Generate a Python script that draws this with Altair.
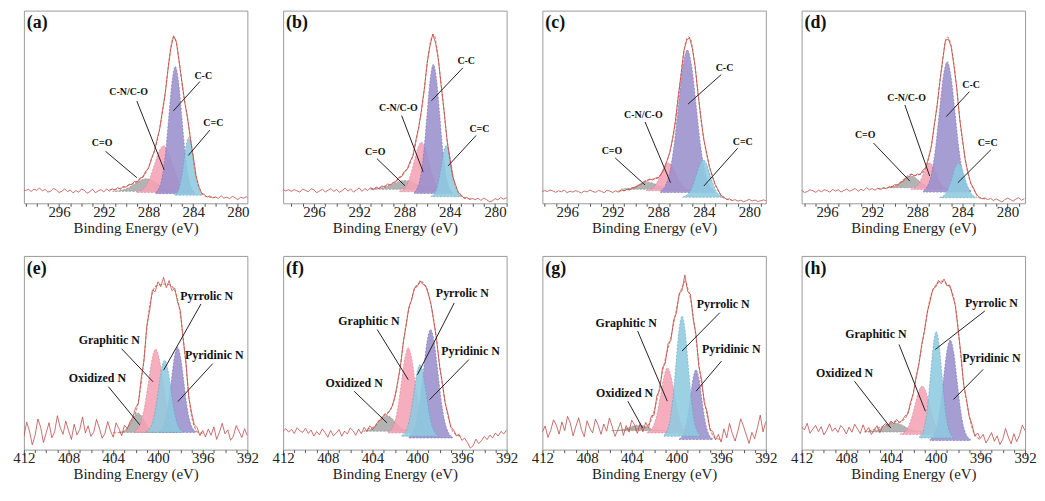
import altair as alt
import pandas as pd

STEP = 0.25
TOP_START = 278.5
BOT_START = 392.0
SERIF = "Liberation Serif"
FILL = ["#a9a9a9", "#f5a2b6", "#9a90cd", "#8fcae0"]
EDGE = ["#808080", "#d57d93", "#7468ad", "#5fa3bf"]

TOP_NAMES = ["C=O", "C-N/C-O", "C-C", "C=C"]
BOT_NAMES = ["Oxidized N", "Graphitic N", "Pyridinic N", "Pyrrolic N"]

# ---------------- (a) ----------------
A_RAW = [2.6, 3.3, 2.2, 3.4, 2.6, 3.1, 1.9, 2.9, 3.6, 2.4, 3.2, 2.7, 3.9, 2.5, 3.3, 2.8, 3.8, 3.2,
         4.6, 5.3, 8.9, 14.4, 24.6, 33.5, 44.3, 52.2, 62.8, 73.1, 83.6, 86.9, 80.4, 69.9, 57.1, 48.2,
         38.4, 32.7, 26.4, 23.1, 18.0, 16.7, 13.4, 13.2, 11.0, 11.4, 9.6, 9.9, 8.3, 8.9, 7.2, 8.1,
         6.8, 7.6, 6.3, 7.5, 5.9, 7.1, 6.4, 5.5, 7.3, 6.1, 5.2, 6.8, 7.4, 5.7, 6.6, 5.4, 6.9, 6.0,
         7.5, 6.2, 5.6, 6.9, 7.7, 6.3, 5.8, 7.2, 6.5, 7.9, 6.7, 7.4, 6.1, 7.3, 6.6, 7.1]
A_ENV_X = [282.0, 282.8, 283.2, 283.5, 283.8, 284.1, 284.4, 284.7, 285.0, 285.3, 285.55, 285.75,
           286.0, 286.3, 286.6, 286.9, 287.2, 287.6, 288.0, 288.4, 289.0, 289.9, 290.5, 291.5]
A_ENV_Y = [3.0, 3.5, 5.0, 8.5, 16.0, 28.0, 40.0, 51.0, 62.0, 76.0, 84.5, 86.3,
           81.0, 67.0, 53.0, 42.0, 33.0, 25.0, 18.5, 14.5, 11.5, 9.0, 7.8, 7.0]
A_X = [[285.2, 285.7, 286.2, 286.7, 287.2, 287.7, 288.2, 288.7, 289.2, 289.7, 290.2, 290.7, 291.2],
       [284.25, 284.65, 285.05, 285.45, 285.85, 286.25, 286.65, 287.05, 287.45, 287.85, 288.25, 288.65, 289.05],
       [283.86, 284.15, 284.44, 284.73, 285.02, 285.31, 285.6, 285.89, 286.18, 286.47, 286.76, 287.05, 287.34],
       [283.14, 283.35, 283.56, 283.77, 283.98, 284.19, 284.4, 284.61, 284.82, 285.03, 285.24, 285.45, 285.66]]
A_H = [[0.1, 0.3, 0.9, 2.1, 3.9, 5.7, 6.5, 5.7, 3.9, 2.1, 0.9, 0.3, 0.1],
       [0.3, 1.1, 3.3, 7.9, 14.7, 21.4, 24.3, 21.4, 14.7, 7.9, 3.3, 1.1, 0.3],
       [0.7, 2.9, 8.9, 21.5, 40.1, 58.2, 66.0, 58.2, 40.1, 21.5, 8.9, 2.9, 0.7],
       [0.3, 1.3, 4.1, 9.8, 18.2, 26.5, 30.0, 26.5, 18.2, 9.8, 4.1, 1.3, 0.3]]
A_BASE = [6.2, 5.6, 5.0, 4.2]
A_NOTES = [["C-C", 283.1, 66.3, 283.4, 63.2, 285.78, 47.9],
           ["C-N/C-O", 289.78, 57.8, 289.04, 53.0, 286.6, 17.4],
           ["C=C", 282.2, 41.9, 282.5, 38.0, 284.44, 24.8],
           ["C=O", 292.15, 31.1, 291.85, 27.0, 289.04, 13.3]]

# ---------------- (b) ----------------
B_RAW = [2.8, 1.6, 2.9, 2.1, 3.0, 1.8, 2.4, 1.2, 0.8, 1.9, 2.7, 1.5, 2.6, 1.9, 2.5, 2.0, 3.1, 2.6,
         4.5, 5.6, 9.9, 14.2, 23.6, 33.1, 47.9, 60.4, 74.3, 83.0, 87.9, 81.5, 72.6, 59.1, 48.6, 39.1,
         32.7, 24.6, 21.8, 17.7, 16.6, 13.8, 13.5, 11.2, 10.9, 9.4, 10.1, 8.4, 9.0, 7.6, 8.5, 7.0,
         8.1, 6.6, 7.7, 6.2, 8.0, 6.9, 5.8, 7.4, 6.3, 7.9, 6.6, 5.7, 7.2, 6.1, 7.6, 6.8, 5.9, 7.3,
         6.4, 5.5, 6.9, 7.6, 6.0, 6.7, 7.4, 5.8, 6.5, 7.1, 6.2, 7.0, 6.4, 7.3, 6.8, 6.5]
B_ENV_X = [282.0, 282.7, 283.1, 283.4, 283.7, 284.0, 284.3, 284.6, 284.9, 285.15, 285.4, 285.6,
           285.9, 286.2, 286.5, 286.8, 287.2, 287.6, 288.0, 288.4, 289.0, 290.0, 291.0]
B_ENV_Y = [2.2, 2.8, 4.5, 7.5, 13.0, 23.0, 36.0, 53.0, 69.0, 81.0, 87.5, 86.0,
           77.0, 62.0, 48.0, 38.0, 26.0, 19.5, 16.0, 13.5, 10.5, 8.5, 7.5]
B_X = [[285.0, 285.5, 286.0, 286.5, 287.0, 287.5, 288.0, 288.5, 289.0, 289.5, 290.0, 290.5, 291.0],
       [284.55, 284.88, 285.2, 285.53, 285.85, 286.18, 286.5, 286.83, 287.15, 287.48, 287.8, 288.13, 288.45],
       [283.77, 284.05, 284.33, 284.61, 284.89, 285.17, 285.45, 285.73, 286.01, 286.29, 286.57, 286.85, 287.13],
       [282.95, 283.18, 283.4, 283.63, 283.85, 284.08, 284.3, 284.53, 284.75, 284.98, 285.2, 285.43, 285.65]]
B_H = [[0.0, 0.2, 0.6, 1.5, 2.7, 4.0, 4.5, 4.0, 2.7, 1.5, 0.6, 0.2, 0.0],
       [0.3, 1.1, 3.5, 8.4, 15.6, 22.7, 25.7, 22.7, 15.6, 8.4, 3.5, 1.1, 0.3],
       [0.7, 2.9, 9.0, 21.8, 40.7, 59.1, 67.0, 59.1, 40.7, 21.8, 9.0, 2.9, 0.7],
       [0.3, 1.2, 3.6, 8.6, 16.1, 23.5, 26.6, 23.5, 16.1, 8.6, 3.6, 1.2, 0.3]]
B_BASE = [7.3, 6.0, 5.1, 3.4]
B_NOTES = [["C-C", 282.55, 73.8, 282.84, 70.3, 285.62, 53.2],
           ["C-N/C-O", 288.54, 49.2, 288.25, 45.5, 286.35, 16.3],
           ["C=C", 281.38, 38.6, 281.67, 35.2, 284.15, 19.4],
           ["C=O", 290.59, 26.6, 290.44, 23.2, 287.96, 9.1]]

# ---------------- (c) ----------------
C_RAW = [1.1, 1.8, 1.3, 0.9, 1.7, 1.2, 2.0, 1.4, 0.8, 1.6, 1.1, 1.9, 1.4, 2.3, 2.1, 3.2, 4.2, 7.1,
         9.6, 14.4, 18.8, 26.1, 33.2, 44.4, 56.5, 70.6, 80.1, 86.0, 84.6, 79.0, 66.5, 55.2, 42.2, 33.5,
         26.0, 21.8, 17.5, 15.1, 13.2, 13.0, 12.1, 12.6, 11.5, 11.2, 9.8, 9.4, 8.1, 7.9, 6.9, 7.3,
         6.4, 6.9, 5.8, 6.5, 5.6, 6.3, 6.8, 5.5, 6.2, 6.7, 5.7, 6.1, 6.9, 5.9, 6.4, 5.3, 6.0, 6.6,
         5.8, 6.3, 5.5, 6.8, 6.0, 6.5, 5.7, 6.4, 6.9, 6.1, 6.6, 5.9, 6.3, 6.7, 6.0, 6.4]
C_ENV_X = [281.5, 282.2, 282.6, 282.9, 283.2, 283.5, 283.8, 284.05, 284.3, 284.5, 284.75, 284.95,
           285.15, 285.38, 285.6, 285.82, 286.1, 286.4, 286.6, 286.85, 287.2, 287.6, 288.0, 288.5,
           289.0, 289.5, 290.0, 290.5, 291.5]
C_ENV_Y = [1.6, 2.6, 5.2, 8.5, 13.0, 19.0, 27.0, 35.0, 46.0, 57.0, 70.0, 79.0,
           85.0, 86.4, 83.5, 76.0, 62.0, 47.5, 38.0, 30.0, 22.5, 17.0, 13.5, 12.5,
           12.0, 10.2, 8.5, 7.3, 6.3]
C_X = [[286.5, 286.9, 287.3, 287.7, 288.1, 288.5, 288.9, 289.3, 289.7, 290.1, 290.5, 290.9, 291.3],
       [285.15, 285.48, 285.8, 286.13, 286.45, 286.78, 287.1, 287.43, 287.75, 288.08, 288.4, 288.73, 289.05],
       [283.11, 283.5, 283.89, 284.28, 284.67, 285.06, 285.45, 285.84, 286.23, 286.62, 287.01, 287.4, 287.79],
       [282.25, 282.55, 282.85, 283.15, 283.45, 283.75, 284.05, 284.35, 284.65, 284.95, 285.25, 285.55, 285.85]]
C_H = [[0.0, 0.2, 0.5, 1.2, 2.2, 3.2, 3.6, 3.2, 2.2, 1.2, 0.5, 0.2, 0.0],
       [0.2, 0.6, 1.9, 4.7, 8.7, 12.7, 14.4, 12.7, 8.7, 4.7, 1.9, 0.6, 0.2],
       [0.8, 3.3, 10.0, 24.1, 44.9, 65.3, 74.0, 65.3, 44.9, 24.1, 10.0, 3.3, 0.8],
       [0.2, 0.9, 2.6, 6.3, 11.8, 17.2, 19.5, 17.2, 11.8, 6.3, 2.6, 0.9, 0.2]]
C_BASE = [7.3, 6.5, 5.6, 3.1]
C_NOTES = [["C-C", 282.18, 70.2, 282.47, 66.8, 285.38, 51.5],
           ["C-N/C-O", 289.31, 45.6, 289.16, 42.2, 286.92, 10.7],
           ["C=C", 280.58, 32.0, 281.02, 28.6, 283.99, 9.0],
           ["C=O", 292.07, 26.9, 291.78, 23.5, 289.16, 9.5]]

# ---------------- (d) ----------------
D_RAW = [2.4, 1.6, 2.9, 2.2, 1.1, 2.0, 2.7, 1.8, 0.7, 1.5, 2.3, 1.4, 2.6, 1.9, 2.8, 2.3, 3.3, 4.5,
         7.8, 10.1, 15.9, 22.6, 33.5, 44.4, 59.8, 71.5, 81.5, 85.2, 84.6, 74.1, 63.2, 50.1, 40.6, 29.5,
         23.9, 18.4, 17.2, 14.9, 15.2, 14.1, 15.3, 13.7, 13.4, 11.3, 11.0, 9.5, 9.7, 8.4, 8.6, 7.5,
         8.2, 7.1, 7.9, 6.8, 7.6, 7.0, 8.1, 6.6, 7.3, 6.2, 7.7, 6.9, 6.3, 7.4, 6.7, 5.9, 7.0, 6.4,
         7.2, 5.8, 6.6, 7.1, 6.0, 6.8, 5.7, 6.5, 7.0, 6.1, 5.6, 6.7, 6.2, 5.4, 6.3, 5.9]
D_ENV_X = [282.0, 282.5, 282.93, 283.25, 283.52, 283.75, 283.96, 284.2, 284.4, 284.62, 284.84, 285.1,
           285.34, 285.55, 285.72, 285.95, 286.16, 286.45, 286.75, 287.05, 287.34, 287.8, 288.2, 288.6,
           289.1, 289.6, 290.5, 291.5]
D_ENV_Y = [2.3, 2.9, 6.4, 10.5, 15.8, 23.0, 31.3, 42.0, 53.6, 66.0, 76.0, 84.0,
           86.3, 83.0, 76.0, 65.0, 55.0, 42.0, 30.0, 22.0, 17.5, 15.0, 14.5, 15.0,
           13.0, 10.2, 8.3, 7.6]
D_X = [[286.45, 286.8, 287.15, 287.5, 287.85, 288.2, 288.55, 288.9, 289.25, 289.6, 289.95, 290.3, 290.65],
       [285.25, 285.53, 285.8, 286.08, 286.35, 286.63, 286.9, 287.18, 287.45, 287.73, 288.0, 288.28, 288.55],
       [283.25, 283.6, 283.95, 284.3, 284.65, 285.0, 285.35, 285.7, 286.05, 286.4, 286.75, 287.1, 287.45],
       [282.7, 282.98, 283.25, 283.53, 283.8, 284.08, 284.35, 284.63, 284.9, 285.18, 285.45, 285.73, 286.0]]
D_H = [[0.1, 0.3, 0.8, 2.0, 3.6, 5.3, 6.0, 5.3, 3.6, 2.0, 0.8, 0.3, 0.1],
       [0.2, 0.6, 1.9, 4.5, 8.4, 12.2, 13.8, 12.2, 8.4, 4.5, 1.9, 0.6, 0.2],
       [0.7, 3.0, 9.1, 22.0, 41.0, 59.6, 67.6, 59.6, 41.0, 22.0, 9.1, 3.0, 0.7],
       [0.2, 0.8, 2.4, 5.9, 10.9, 15.9, 18.0, 15.9, 10.9, 5.9, 2.4, 0.8, 0.2]]
D_BASE = [8.1, 7.2, 5.8, 2.9]
D_NOTES = [["C-C", 283.23, 61.3, 283.38, 57.9, 285.43, 45.0],
           ["C-N/C-O", 288.95, 54.5, 289.1, 51.0, 286.9, 14.1],
           ["C=C", 281.76, 31.3, 281.47, 27.8, 284.4, 10.7],
           ["C=O", 292.62, 35.6, 291.89, 31.3, 288.66, 11.5]]

# ---------------- (e) ----------------
E_RAW = [7.1, 10.8, 6.2, 9.5, 12.4, 7.0, 4.8, 10.2, 8.1, 13.6, 9.0, 5.3, 11.8, 7.4, 10.6, 6.5,
         9.9, 7.2, 11.5, 12.8, 19.4, 27.0, 45.6, 56.9, 71.8, 76.2, 83.4, 82.0, 87.3, 83.6, 88.9, 84.1,
         86.7, 81.5, 82.4, 71.6, 64.0, 45.8, 37.1, 23.9, 21.7, 16.8, 14.3, 10.9, 12.6, 7.1, 10.9, 13.8,
         6.4, 9.7, 14.5, 8.3, 5.9, 11.2, 15.6, 9.1, 6.8, 12.3, 8.6, 16.9, 10.4, 7.6, 13.1, 5.2, 9.8,
         14.7, 7.9, 11.3, 17.5, 9.2, 6.1, 13.9, 8.8, 3.7, 11.6, 15.8, 7.3, 2.5, 9.6, 14.2, 6.9]
E_ENV_X = [396.0, 396.3, 396.74, 397.0, 397.19, 397.48, 397.78, 398.0, 398.22, 398.67, 399.26, 399.7,
           400.15, 400.6, 400.85, 401.04, 401.33, 401.63, 401.9, 402.22, 402.5, 402.8, 403.3, 404.0]
E_ENV_Y = [8.5, 8.6, 12.0, 17.5, 25.6, 42.7, 60.0, 70.0, 77.0, 83.8, 85.5, 85.3,
           84.6, 78.6, 70.0, 60.0, 42.7, 29.0, 21.0, 16.5, 13.2, 10.5, 8.9, 8.7]
E_X = [[400.15, 400.43, 400.7, 400.98, 401.25, 401.53, 401.8, 402.08, 402.35, 402.63, 402.9, 403.18, 403.45],
       [398.25, 398.58, 398.9, 399.23, 399.55, 399.88, 400.2, 400.53, 400.85, 401.18, 401.5, 401.83, 402.15],
       [396.6, 396.88, 397.15, 397.43, 397.7, 397.98, 398.25, 398.53, 398.8, 399.08, 399.35, 399.63, 399.9],
       [397.75, 398.03, 398.3, 398.58, 398.85, 399.13, 399.4, 399.68, 399.95, 400.23, 400.5, 400.78, 401.05]]
E_H = [[0.1, 0.4, 1.4, 3.3, 6.1, 8.8, 10.0, 8.8, 6.1, 3.3, 1.4, 0.4, 0.1],
       [0.5, 1.9, 5.8, 14.0, 26.1, 37.9, 43.0, 37.9, 26.1, 14.0, 5.8, 1.9, 0.5],
       [0.5, 1.9, 5.9, 14.3, 26.7, 38.8, 44.0, 38.8, 26.7, 14.3, 5.9, 1.9, 0.5],
       [0.4, 1.6, 5.0, 12.1, 22.6, 32.9, 37.3, 32.9, 22.6, 12.1, 5.0, 1.6, 0.4]]
E_BASE = [8.9, 8.9, 8.9, 8.9]
E_NOTES = [["Pyrrolic N", 395.64, 79.5, 396.15, 75.2, 399.5, 41.0],
           ["Graphitic N", 404.36, 56.4, 403.26, 52.1, 400.44, 35.0],
           ["Pyridinic N", 394.96, 48.7, 395.1, 44.4, 398.22, 24.8],
           ["Oxidized N", 405.42, 36.8, 404.44, 32.5, 401.63, 12.8]]

# ---------------- (f) ----------------
F_RAW = [10.2, 8.1, 9.4, 7.0, 8.6, 6.1, 7.5, 5.2, 6.8, 4.6, 3.1, 5.4, 2.0, 0.8, 3.6, 5.9,
         4.8, 7.9, 7.1, 10.2, 11.6, 18.7, 24.1, 34.6, 43.0, 56.4, 65.3, 74.9, 80.1, 84.8, 85.3, 87.2,
         84.1, 83.5, 77.2, 73.4, 63.6, 55.3, 43.1, 35.0, 27.2, 22.4, 19.8, 18.0, 17.6, 15.4, 14.6, 12.1,
         10.4, 12.3, 9.4, 11.5, 8.2, 10.6, 7.4, 9.8, 11.2, 8.0, 9.6, 6.9, 10.4, 8.5, 7.1, 9.9, 6.4,
         8.8, 10.7, 7.6, 9.3, 7.0, 10.1, 8.4, 11.0, 8.9, 9.7, 11.3, 8.3, 10.5, 9.0, 10.8, 9.5]
F_ENV_X = [396.1, 396.7, 397.13, 397.57, 398.0, 398.45, 398.75, 399.04, 399.35, 399.63, 399.9, 400.2,
           400.5, 400.8, 401.1, 401.38, 401.6, 401.82, 402.05, 402.26, 402.55, 402.85, 403.1, 403.4,
           403.73, 404.5]
F_ENV_Y = [6.9, 8.6, 14.6, 26.7, 43.9, 64.5, 74.0, 81.8, 85.0, 86.9, 85.5, 83.5,
           78.0, 71.4, 61.0, 49.0, 39.5, 31.8, 26.0, 22.0, 19.5, 18.5, 17.2, 15.0,
           12.5, 10.5]
F_X = [[400.6, 400.95, 401.3, 401.65, 402.0, 402.35, 402.7, 403.05, 403.4, 403.75, 404.1, 404.45, 404.8],
       [399.0, 399.3, 399.6, 399.9, 400.2, 400.5, 400.8, 401.1, 401.4, 401.7, 402.0, 402.3, 402.6],
       [396.85, 397.18, 397.5, 397.83, 398.15, 398.48, 398.8, 399.13, 399.45, 399.78, 400.1, 400.43, 400.75],
       [398.1, 398.38, 398.65, 398.93, 399.2, 399.48, 399.75, 400.03, 400.3, 400.58, 400.85, 401.13, 401.4]]
F_H = [[0.1, 0.4, 1.1, 2.6, 4.9, 7.1, 8.0, 7.1, 4.9, 2.6, 1.1, 0.4, 0.1],
       [0.5, 1.9, 5.9, 14.3, 26.7, 38.8, 44.0, 38.8, 26.7, 14.3, 5.9, 1.9, 0.5],
       [0.6, 2.5, 7.6, 18.2, 34.0, 49.4, 56.0, 49.4, 34.0, 18.2, 7.6, 2.5, 0.6],
       [0.4, 1.6, 5.0, 12.0, 22.5, 32.6, 37.0, 32.6, 22.5, 12.0, 5.0, 1.6, 0.4]]
F_BASE = [9.5, 8.6, 6.0, 6.9]
F_NOTES = [["Pyrrolic N", 395.96, 80.9, 396.69, 75.7, 399.98, 38.7],
           ["Graphitic N", 404.32, 66.3, 403.58, 62.0, 400.8, 36.1],
           ["Pyridinic N", 395.23, 51.1, 395.37, 46.5, 398.89, 25.8],
           ["Oxidized N", 405.64, 34.4, 405.64, 30.1, 402.7, 13.8]]

# ---------------- (g) ----------------
G_RAW = [14.6, 9.2, 17.8, 11.4, 5.6, 8.9, 3.2, 7.5, 12.1, 15.9, 9.7, 4.4, 8.3, 13.5, 6.1, 10.7,
         3.9, 7.8, 5.0, 9.4, 10.1, 19.6, 23.8, 36.5, 43.1, 59.4, 67.2, 80.3, 81.6, 90.2, 82.0, 80.8,
         70.6, 67.1, 56.2, 54.8, 44.5, 42.3, 30.6, 27.9, 17.8, 17.4, 11.1, 14.0, 9.2, 13.6, 8.4, 12.8,
         15.2, 9.0, 12.4, 7.3, 14.1, 10.2, 6.8, 11.9, 16.3, 9.5, 13.2, 7.9, 12.5, 15.8, 8.6, 11.1,
         14.9, 6.7, 10.3, 16.4, 12.0, 7.1, 13.7, 17.2, 9.8, 14.3, 8.0, 12.6, 15.4, 10.0, 6.3, 12.2, 9.1]
G_ENV_X = [396.0, 396.56, 397.0, 397.44, 397.88, 398.1, 398.32, 398.55, 398.76, 399.0, 399.2, 399.4,
           399.8, 400.1, 400.38, 400.7, 400.97, 401.2, 401.41, 401.63, 401.85, 402.05, 402.3, 402.6,
           402.88, 403.5, 404.5]
G_ENV_Y = [5.2, 6.0, 11.2, 23.3, 38.8, 50.0, 61.2, 71.0, 78.4, 83.5, 87.0, 85.0,
           78.4, 69.5, 61.2, 53.5, 47.4, 41.5, 35.3, 28.8, 23.3, 19.0, 14.7, 12.3,
           11.2, 10.8, 10.5]
G_X = [[401.0, 401.4, 401.8, 402.2, 402.6, 403.0, 403.4, 403.8, 404.2, 404.6, 405.0, 405.4, 405.8],
       [399.0, 399.3, 399.6, 399.9, 400.2, 400.5, 400.8, 401.1, 401.4, 401.7, 402.0, 402.3, 402.6],
       [396.75, 397.0, 397.25, 397.5, 397.75, 398.0, 398.25, 398.5, 398.75, 399.0, 399.25, 399.5, 399.75],
       [397.88, 398.15, 398.42, 398.69, 398.96, 399.23, 399.5, 399.77, 400.04, 400.31, 400.58, 400.85, 401.12]]
G_H = [[0.0, 0.1, 0.4, 0.9, 1.7, 2.5, 2.8, 2.5, 1.7, 0.9, 0.4, 0.1, 0.0],
       [0.4, 1.5, 4.5, 10.9, 20.4, 29.6, 33.6, 29.6, 20.4, 10.9, 4.5, 1.5, 0.4],
       [0.4, 1.6, 4.9, 11.7, 21.9, 31.8, 36.0, 31.8, 21.9, 11.7, 4.9, 1.6, 0.4],
       [0.7, 2.7, 8.4, 20.2, 37.6, 54.7, 62.0, 54.7, 37.6, 20.2, 8.4, 2.7, 0.7]]
G_BASE = [9.8, 8.6, 5.2, 6.9]
G_NOTES = [["Pyrrolic N", 395.82, 75.3, 396.12, 70.7, 399.5, 50.9],
           ["Graphitic N", 404.5, 65.5, 403.47, 61.2, 400.82, 25.0],
           ["Pyridinic N", 395.09, 51.7, 395.97, 45.7, 398.24, 30.2],
           ["Oxidized N", 404.65, 29.3, 404.35, 25.0, 403.03, 11.2]]

# ---------------- (h) ----------------
H_RAW = [9.8, 12.6, 7.4, 4.1, 8.2, 3.0, 6.5, 10.9, 5.3, 2.6, 7.1, 4.3, 8.8, 6.0, 3.4, 7.9,
         5.8, 8.6, 6.9, 13.0, 17.2, 26.4, 33.8, 49.6, 62.3, 74.5, 79.8, 85.0, 84.6, 88.1, 85.7, 87.4,
         83.9, 83.0, 76.6, 71.1, 61.2, 54.3, 44.1, 37.8, 28.9, 24.5, 18.3, 17.4, 15.1, 13.9, 15.6, 13.3,
         14.8, 12.0, 13.5, 11.9, 8.7, 12.3, 10.1, 7.8, 11.4, 9.2, 12.8, 8.3, 10.7, 13.1, 9.0, 11.6,
         8.1, 10.9, 12.4, 8.9, 11.2, 9.5, 13.3, 10.0, 7.6, 11.8, 9.3, 12.5, 10.6, 8.4, 13.6, 10.2, 11.7]
H_ENV_X = [396.0, 396.2, 396.64, 397.14, 397.52, 397.82, 398.12, 398.56, 399.0, 399.44, 399.9, 400.2,
           400.48, 400.92, 401.37, 401.8, 402.25, 402.7, 403.28, 403.7, 404.17, 405.0, 406.0]
H_ENV_Y = [5.0, 6.0, 9.5, 21.6, 35.3, 52.6, 69.8, 81.9, 85.5, 87.0, 85.5, 83.0,
           78.4, 64.7, 49.1, 35.3, 23.3, 16.4, 14.2, 14.6, 13.4, 11.5, 9.6]
H_X = [[401.0, 401.45, 401.9, 402.35, 402.8, 403.25, 403.7, 404.15, 404.6, 405.05, 405.5, 405.95, 406.4],
       [399.25, 399.58, 399.9, 400.23, 400.55, 400.88, 401.2, 401.53, 401.85, 402.18, 402.5, 402.83, 403.15],
       [396.9, 397.2, 397.5, 397.8, 398.1, 398.4, 398.7, 399.0, 399.3, 399.6, 399.9, 400.2, 400.5],
       [398.45, 398.7, 398.95, 399.2, 399.45, 399.7, 399.95, 400.2, 400.45, 400.7, 400.95, 401.2, 401.45]]
H_H = [[0.1, 0.2, 0.6, 1.5, 2.9, 4.1, 4.7, 4.1, 2.9, 1.5, 0.6, 0.2, 0.1],
       [0.3, 1.1, 3.4, 8.1, 15.2, 22.1, 25.0, 22.1, 15.2, 8.1, 3.4, 1.1, 0.3],
       [0.6, 2.3, 7.0, 16.9, 31.6, 45.9, 52.0, 45.9, 31.6, 16.9, 7.0, 2.3, 0.6],
       [0.6, 2.4, 7.4, 17.9, 33.4, 48.5, 55.0, 48.5, 33.4, 17.9, 7.4, 2.4, 0.6]]
H_BASE = [9.1, 7.8, 4.7, 6.0]
H_NOTES = [["Pyrrolic N", 395.01, 75.9, 395.6, 71.6, 400.04, 51.7],
           ["Graphitic N", 405.35, 59.5, 403.28, 54.3, 400.92, 19.8],
           ["Pyridinic N", 395.01, 47.4, 395.75, 41.4, 398.41, 25.9],
           ["Oxidized N", 408.16, 39.7, 407.27, 35.3, 404.02, 11.2]]


def panel(label, raw, start, env_x, env_y, comp_x, comp_h, bases, notes, dom, ticks, height, note_size):
    xscale = alt.Scale(domain=dom, reverse=True, nice=False, zero=False)
    yscale = alt.Scale(domain=[0, 100], nice=False, zero=False)
    xaxis = alt.Axis(
        values=ticks, title="Binding Energy (eV)", grid=False, domain=False,
        labelExpr="datum.value % 4 === 0 ? datum.label : ''",
        tickSize={"condition": {"test": "datum.value % 4 === 0", "value": 6}, "value": 3},
        tickColor="#555555", tickWidth=1,
        labelFont=SERIF, labelFontSize=15, labelColor="#222222", labelPadding=-5,
        labelFlush=False, labelOverlap=False,
        titleFont=SERIF, titleFontSize=15, titleFontWeight="normal", titleColor="#222222",
        titlePadding=1,
    )
    X = alt.X("x:Q", scale=xscale, axis=xaxis)
    Y = alt.Y("y:Q", scale=yscale, axis=None)
    layers = []
    for i in range(4):
        df = pd.DataFrame({"x": comp_x[i],
                           "y": [bases[i] + v for v in comp_h[i]],
                           "y2": [bases[i]] * len(comp_x[i])})
        layers.append(alt.Chart(df).mark_area(
            color=FILL[i], opacity=0.88, interpolate="monotone", stroke=EDGE[i],
            strokeWidth=0.7, strokeDash=[2, 1.5], clip=True
        ).encode(x=X, y=Y, y2="y2:Q"))
    env_df = pd.DataFrame({"x": env_x, "y": env_y})
    layers.append(alt.Chart(env_df).mark_line(
        color="#d38a6e", strokeWidth=1.1, strokeDash=[3, 1.5], interpolate="monotone", clip=True
    ).encode(x=X, y=Y))
    raw_df = pd.DataFrame({"x": [start + STEP * i for i in range(len(raw))], "y": raw})
    layers.append(alt.Chart(raw_df).mark_line(color="#bf4a4a", strokeWidth=0.8, clip=True).encode(x=X, y=Y))
    nd = pd.DataFrame(notes, columns=["t", "tx", "ty", "x", "y", "x2", "y2"])
    layers.append(alt.Chart(nd).mark_rule(color="#222222", strokeWidth=1).encode(x=X, y=Y, x2="x2:Q", y2="y2:Q"))
    td = pd.DataFrame({"x": nd["tx"], "y": nd["ty"], "t": nd["t"]})
    layers.append(alt.Chart(td).mark_text(
        font=SERIF, fontSize=note_size, fontWeight="bold", color="#111111", align="center", baseline="middle"
    ).encode(x=X, y=Y, text="t:N"))
    ld = pd.DataFrame({"t": [label]})
    layers.append(alt.Chart(ld).mark_text(
        font=SERIF, fontSize=18, fontWeight="bold", color="#111111", align="left", baseline="middle"
    ).encode(x=alt.value(3), y=alt.value(13), text="t:N"))
    return alt.layer(*layers).properties(width=225, height=height)


top_specs = [
    ("(a)", A_RAW, A_ENV_X, A_ENV_Y, A_X, A_H, A_BASE, A_NOTES, [279.15, 299.15]),
    ("(b)", B_RAW, B_ENV_X, B_ENV_Y, B_X, B_H, B_BASE, B_NOTES, [278.98, 298.72]),
    ("(c)", C_RAW, C_ENV_X, C_ENV_Y, C_X, C_H, C_BASE, C_NOTES, [278.55, 298.18]),
    ("(d)", D_RAW, D_ENV_X, D_ENV_Y, D_X, D_H, D_BASE, D_NOTES, [278.44, 298.26]),
]
bot_specs = [
    ("(e)", E_RAW, E_ENV_X, E_ENV_Y, E_X, E_H, E_BASE, E_NOTES, [392, 412]),
    ("(f)", F_RAW, F_ENV_X, F_ENV_Y, F_X, F_H, F_BASE, F_NOTES, [392, 412]),
    ("(g)", G_RAW, G_ENV_X, G_ENV_Y, G_X, G_H, G_BASE, G_NOTES, [392, 412]),
    ("(h)", H_RAW, H_ENV_X, H_ENV_Y, H_X, H_H, H_BASE, H_NOTES, [392, 412]),
]

tops = []
for (lab, raw, ex, ey, cx, ch, cb, nt, dom) in top_specs:
    ticks = [v for v in range(278, 301) if dom[0] <= v <= dom[1]]
    tops.append(panel(lab, raw, TOP_START, ex, ey, cx, ch, cb, nt, dom, ticks, 194, 10))
bots = []
for (lab, raw, ex, ey, cx, ch, cb, nt, dom) in bot_specs:
    ticks = list(range(392, 413))
    bots.append(panel(lab, raw, BOT_START, ex, ey, cx, ch, cb, nt, dom, ticks, 195, 12))

row1 = alt.hconcat(*tops, spacing=36, bounds="flush")
row2 = alt.hconcat(*bots, spacing=36, bounds="flush")
chart = alt.vconcat(row1, row2, spacing=19).properties(
    padding={"left": 4, "top": 0, "right": 0, "bottom": 0},
    background="white",
).configure_view(stroke="#9a9a9a", strokeWidth=1)

chart.save("out.html", embed_options={"renderer": "svg", "actions": False})
